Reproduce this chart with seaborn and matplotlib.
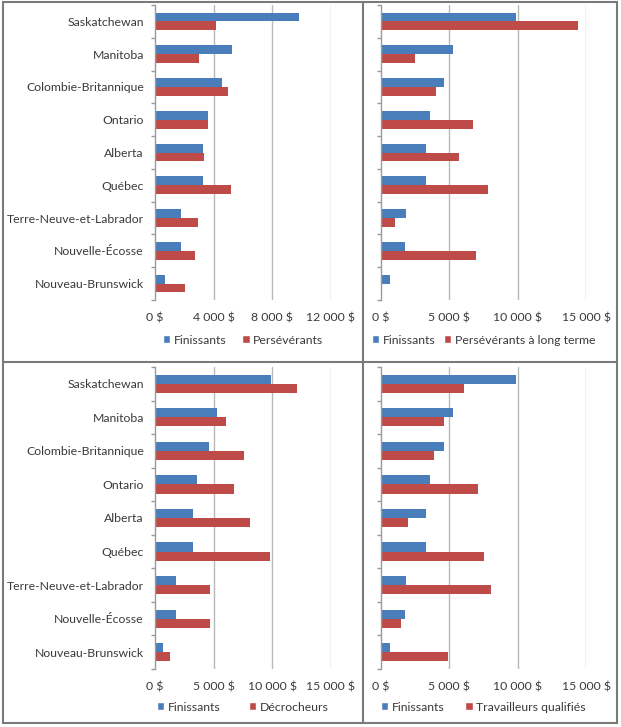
import matplotlib
matplotlib.use("Agg")
import matplotlib.pyplot as plt
import seaborn as sns
import pandas as pd
from matplotlib.patches import Patch, Rectangle
from matplotlib.lines import Line2D
from matplotlib.ticker import FuncFormatter, FixedLocator

provinces = ["Saskatchewan", "Manitoba", "Colombie-Britannique", "Ontario", "Alberta",
             "Québec", "Terre-Neuve-et-Labrador", "Nouvelle-Écosse", "Nouveau-Brunswick"]

finissants = [9850, 5250, 4600, 3600, 3270, 3270, 1800, 1760, 680]
perseverants = [4160, 3030, 4990, 3600, 3330, 5150, 2940, 2740, 2070]
perseverants_lt = [14440, 2490, 4000, 6710, 5680, 7800, 1050, 6950, 0]
decrocheurs = [12080, 6010, 7550, 6720, 8120, 9830, 4670, 4730, 1280]
travailleurs = [6100, 4610, 3900, 7070, 2000, 7560, 8050, 1460, 4930]

series_names = ["Finissants", "Persévérants", "Persévérants à long terme",
                "Décrocheurs", "Travailleurs qualifiés"]

blue = "#4A7EBB"
red = "#BE4B48"
text_color = "#3a3a3a"
grid_color = "#B8B8B8"

sns.set_theme(style="white")
plt.rcParams["font.family"] = ["Lato", "DejaVu Sans"]

FS = 8.8
W, H = 621, 727
fig = plt.figure(figsize=(W / 100, H / 100), dpi=100)


def frac_axes(x0, x1, y0, y1):
    return fig.add_axes([x0 / W, 1 - y1 / H, (x1 - x0) / W, (y1 - y0) / H])


def money(v, pos=None):
    s = f"{int(v):,}".replace(",", " ")
    return f"{s} $"


panels = [
    dict(box=(155, 331, 5, 300), other=perseverants, name=series_names[1], xmax=12000, step=4000,
         labels=True, leg_y=-0.136, colsp=1.3),
    dict(box=(381, 586, 5, 300), other=perseverants_lt, name=series_names[2], xmax=15000, step=5000,
         labels=False, leg_y=-0.136, colsp=0.7),
    dict(box=(155, 331, 367, 669), other=decrocheurs, name=series_names[3], xmax=15000, step=5000,
         labels=True, leg_y=-0.126, colsp=2.3),
    dict(box=(381, 586, 367, 669), other=travailleurs, name=series_names[4], xmax=15000, step=5000,
         labels=False, leg_y=-0.126, colsp=1.7),
]

for p in panels:
    ax = frac_axes(*p["box"])
    df = pd.DataFrame({
        "province": provinces * 2,
        "valeur": finissants + p["other"],
        "serie": ["Finissants"] * len(provinces) + [p["name"]] * len(provinces),
    })
    sns.barplot(data=df, x="valeur", y="province", hue="serie", orient="h",
                palette=[blue, red], width=0.54, ax=ax, legend=False,
                order=provinces, hue_order=["Finissants", p["name"]],
                edgecolor="none", linewidth=0, saturation=1)
    ax.set_xlim(0, p["xmax"])
    ax.set_ylim(len(provinces) - 0.5, -0.5)
    xt = list(range(0, p["xmax"] + 1, p["step"]))
    ax.set_xticks(xt)
    ax.xaxis.set_major_formatter(FuncFormatter(money))
    ax.set_xlabel("")
    ax.set_ylabel("")
    for x in xt[1:]:
        ax.axvline(x, color=grid_color, lw=1.0, zorder=0)
    for s in ["top", "right", "bottom"]:
        ax.spines[s].set_visible(False)
    ax.spines["left"].set_color("#9a9a9a")
    ax.spines["left"].set_linewidth(1.0)
    ax.tick_params(axis="x", length=0, pad=9, labelsize=FS, colors=text_color)
    ax.yaxis.set_minor_locator(FixedLocator([i - 0.5 for i in range(len(provinces) + 1)]))
    ax.tick_params(axis="y", which="minor", length=3, width=1, color="#9a9a9a", direction="out", left=True)
    ax.tick_params(axis="y", which="major", length=0, pad=8, labelsize=FS, colors=text_color, left=False)
    if not p["labels"]:
        ax.set_yticklabels([])
    ax.set_facecolor("white")
    handles = [Patch(facecolor=blue, label="Finissants"), Patch(facecolor=red, label=p["name"])]
    leg = ax.legend(handles=handles, loc="center", bbox_to_anchor=(0.5, p["leg_y"]), ncol=2,
                    frameon=False, fontsize=FS, handlelength=0.6, handleheight=0.6,
                    handletextpad=0.3, columnspacing=p["colsp"], borderaxespad=0)
    for t in leg.get_texts():
        t.set_color(text_color)

# panel borders
border = "#7a7a7a"
fig.add_artist(Rectangle((2.5 / W, 1 - 723 / H), (617 - 2.5) / W, (723 - 2) / H,
                         transform=fig.transFigure, fill=False, edgecolor=border, lw=1.5))
fig.add_artist(Line2D([363 / W, 363 / W], [1 - 723 / H, 1 - 2 / H], transform=fig.transFigure,
                      color=border, lw=1.5))
fig.add_artist(Line2D([2.5 / W, 617 / W], [1 - 362 / H, 1 - 362 / H], transform=fig.transFigure,
                      color=border, lw=1.5))

fig.savefig("out.png", dpi=100, facecolor="white")
